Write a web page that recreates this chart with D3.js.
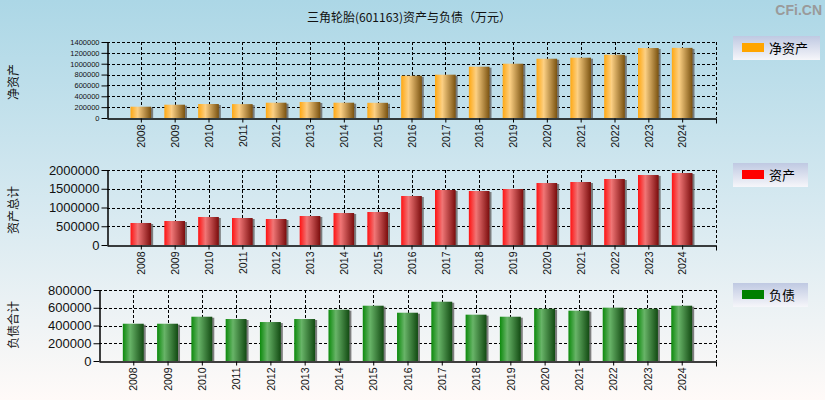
<!DOCTYPE html>
<html><head><meta charset="utf-8">
<script src="https://cdn.jsdelivr.net/npm/d3@7"></script>
<style>
html,body{margin:0;padding:0;}
svg{display:block;font-family:"Liberation Sans",Arial,sans-serif;}
</style></head>
<body>
<script>
const years = ["2008","2009","2010","2011","2012","2013","2014","2015","2016","2017","2018","2019","2020","2021","2022","2023","2024"];
const netAssets = [208000,245000,258000,256000,282000,295000,282000,280000,779000,798000,945000,1000000,1092000,1111000,1166000,1289000,1292000];
const totalAssets = [587000,640000,747000,720000,693000,773000,853000,880000,1307000,1467000,1440000,1493000,1653000,1680000,1760000,1867000,1920000];
const liabilities = [420000,420000,499000,473000,439000,473000,578000,623000,544000,668000,522000,499000,589000,567000,601000,589000,623000];
const titleText = "三角轮胎(601163)资产与负债（万元）";
const legendNames = ["净资产","资产","负债"];
const axisTitles = ["净资产","资产总计","负债合计"];
const yTicks1 = [0,200000,400000,600000,800000,1000000,1200000,1400000];
const yTicks2 = [0,500000,1000000,1500000,2000000];
const yTicks3 = [0,200000,400000,600000,800000];

const W=825,H=400;
const svg=d3.select("body").append("svg").attr("width",W).attr("height",H);
const defs=svg.append("defs");
const bg=defs.append("linearGradient").attr("id","bg").attr("x1",0).attr("y1",0).attr("x2",0).attr("y2",1);
bg.append("stop").attr("offset","0%").attr("stop-color","#acd7e6");
bg.append("stop").attr("offset","55%").attr("stop-color","#d9eaf1");
bg.append("stop").attr("offset","100%").attr("stop-color","#fffaf8");
const lg=defs.append("linearGradient").attr("id","lg").attr("x1",0).attr("y1",0).attr("x2",0).attr("y2",1);
lg.append("stop").attr("offset","0%").attr("stop-color","#bfc9e2");
lg.append("stop").attr("offset","100%").attr("stop-color","#f6f6fa");
function barGrad(id,c0,c1,c2){
  const g=defs.append("linearGradient").attr("id",id).attr("x1",0).attr("y1",0).attr("x2",1).attr("y2",0);
  g.append("stop").attr("offset","0%").attr("stop-color",c0);
  g.append("stop").attr("offset","35%").attr("stop-color",c1);
  g.append("stop").attr("offset","100%").attr("stop-color",c2);
}
barGrad("g0","#ffa812","#fcd084","#7a5210");
barGrad("g1","#ff1212","#f07676","#7a0c0c");
barGrad("g2","#0c8a0c","#68b468","#124a12");

svg.append("rect").attr("width",W).attr("height",H).attr("fill","url(#bg)");

svg.append("text").attr("x",409).attr("y",22).attr("text-anchor","middle")
  .attr("font-size",12).attr("fill","#111").attr("font-family","'Noto Sans CJK SC',sans-serif").text(titleText);
svg.append("text").attr("x",822).attr("y",15).attr("text-anchor","end")
  .attr("font-size",14).attr("font-weight","bold").attr("fill","#9a9a9a").text("CFi.CN");

const panels=[
 {data:netAssets,ticks:yTicks1,max:1400000,l:107,r:716,t:42,b:118,fs:7.5,grad:"g0",sw:"#ffa500",leg:{y:36,w:87},axT:{x:14,y:82}},
 {data:totalAssets,ticks:yTicks2,max:2000000,l:107,r:716,t:170,b:245,fs:13,grad:"g1",sw:"#ff0000",leg:{y:163,w:75},axT:{x:14,y:210}},
 {data:liabilities,ticks:yTicks3,max:800000,l:99,r:716,t:290,b:361,fs:13,grad:"g2",sw:"#008000",leg:{y:283,w:75},axT:{x:14,y:325}}
];

panels.forEach((p,k)=>{
  const x=d3.scalePoint().domain(years).range([p.l,p.r]).padding(1);
  const y=d3.scaleLinear().domain([0,p.max]).range([p.b,p.t]);
  const bw=x.step()*0.61;
  const g=svg.append("g");
  // grid
  g.selectAll(".hg").data(p.ticks.filter(d=>d>0)).join("line")
    .attr("x1",p.l).attr("x2",p.r).attr("y1",d=>Math.round(y(d))+0.5).attr("y2",d=>Math.round(y(d))+0.5)
    .attr("stroke","#000").attr("stroke-dasharray","3,2");
  g.selectAll(".vg").data(years).join("line")
    .attr("x1",d=>Math.round(x(d))+0.5).attr("x2",d=>Math.round(x(d))+0.5).attr("y1",p.t).attr("y2",p.b)
    .attr("stroke","#000").attr("stroke-dasharray","3,2");
  g.append("line").attr("x1",p.r+0.5).attr("x2",p.r+0.5).attr("y1",p.t).attr("y2",p.b)
    .attr("stroke","#000").attr("stroke-dasharray","3,2");
  // bars
  const bars=g.selectAll(".bar").data(years.map((yr,i)=>({yr,v:p.data[i]}))).join("g");
  bars.append("rect").attr("x",d=>x(d.yr)-bw/2+2).attr("y",d=>y(d.v)+1).attr("width",bw).attr("height",d=>p.b-y(d.v)-1)
    .attr("fill","#6a6a6a").attr("opacity",0.85);
  bars.append("rect").attr("x",d=>x(d.yr)-bw/2).attr("y",d=>y(d.v)).attr("width",bw).attr("height",d=>p.b-y(d.v))
    .attr("fill","url(#"+p.grad+")");
  // y axis
  const ya=g.append("g").attr("transform",`translate(${p.l+0.5},0)`)
    .call(d3.axisLeft(y).tickValues(p.ticks).tickFormat(d3.format("d")).tickSize(6).tickPadding(2).tickSizeOuter(0));
  ya.select(".domain").attr("stroke","#000").attr("stroke-width",1.5);
  ya.selectAll("text").attr("font-size",p.fs).attr("fill","#111").attr("font-family","'Liberation Sans',Arial,sans-serif");
  // x axis
  const xa=g.append("g").attr("transform",`translate(0,${p.b+0.5})`)
    .call(d3.axisBottom(x).tickSize(4).tickSizeOuter(0).tickPadding(5));
  xa.select(".domain").attr("stroke","#000").attr("stroke-width",1.5);
  xa.append("line").attr("x1",p.r+0.5).attr("x2",p.r+0.5).attr("y1",0).attr("y2",5).attr("stroke","#000");
  xa.selectAll(".tick text").attr("font-size",10.5).attr("fill","#111")
    .attr("font-family","'Liberation Sans',Arial,sans-serif")
    .attr("transform","rotate(-90)").attr("text-anchor","end").attr("x",-6).attr("y",0).attr("dy","0.35em");
  // axis title
  svg.append("text").attr("transform",`translate(${p.axT.x},${p.axT.y}) rotate(-90)`)
    .attr("text-anchor","middle").attr("dy","0.35em").attr("font-size",12).attr("fill","#111")
    .attr("font-family","'Noto Sans CJK SC',sans-serif").text(axisTitles[k]);
  // legend
  const L=svg.append("g").attr("transform",`translate(733,${p.leg.y})`);
  L.append("rect").attr("width",p.leg.w).attr("height",24).attr("fill","url(#lg)");
  L.append("rect").attr("x",9).attr("y",7).attr("width",22).attr("height",9).attr("fill",p.sw);
  L.append("text").attr("x",36).attr("y",12).attr("dy","0.35em").attr("font-size",13).attr("fill","#000")
    .attr("font-family","'Noto Sans CJK SC',sans-serif").text(legendNames[k]);
});
</script>
</body></html>
